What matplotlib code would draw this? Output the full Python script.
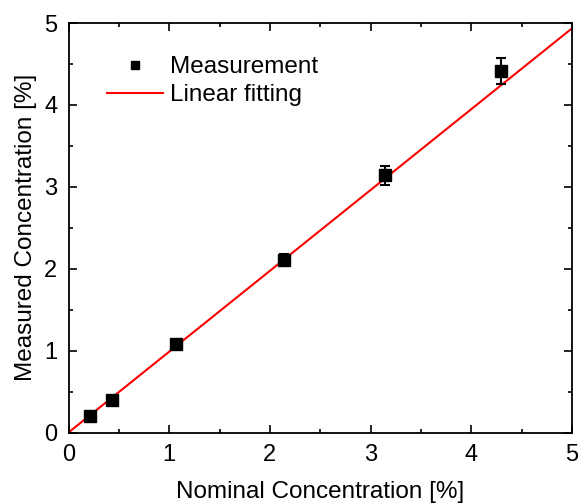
import matplotlib
matplotlib.use("Agg")
import matplotlib.pyplot as plt
import numpy as np
from matplotlib.ticker import MultipleLocator
from matplotlib.lines import Line2D

plt.rcParams['font.family'] = ['Liberation Sans', 'DejaVu Sans']

nominal = [0.21, 0.43, 1.07, 2.14, 3.14, 4.29]
measured = [0.20, 0.40, 1.08, 2.11, 3.14, 4.41]
errors = [0.02, 0.02, 0.03, 0.07, 0.12, 0.16]
slope = 0.987
fit_x = [0, 5.2]

fig = plt.figure(figsize=(5.79, 5.04), dpi=100)
ax = fig.add_axes([68.5/579, 1-432.5/504, (572-68.5)/579, (432.5-23)/504])

fx = np.array(fit_x)
line, = ax.plot(fx, slope*fx, color='red', lw=1.5, zorder=2)
ax.errorbar(nominal, measured, yerr=errors, fmt='s', color='black', ms=8,
            capsize=3.5, elinewidth=1.5, capthick=1.5, zorder=3)

ax.set_xlim(0, 5)
ax.set_ylim(0, 5)
ax.xaxis.set_major_locator(MultipleLocator(1))
ax.yaxis.set_major_locator(MultipleLocator(1))
ax.xaxis.set_minor_locator(MultipleLocator(0.5))
ax.yaxis.set_minor_locator(MultipleLocator(0.5))
ax.tick_params(which='both', direction='in', top=True, right=True, width=1.2)
ax.tick_params(which='major', length=6, labelsize=17, pad=8)
ax.tick_params(which='minor', length=3)
for s in ax.spines.values():
    s.set_linewidth(1.3)

ax.set_xlabel('Nominal Concentration [%]', fontsize=17.5, labelpad=11)
ax.set_ylabel('Measured Concentration [%]', fontsize=17.5, labelpad=5)

mk = Line2D([], [], ls='none', marker='s', color='black', ms=6)
ax.legend([mk, line], ['Measurement', 'Linear fitting'], loc='upper left',
          bbox_to_anchor=(0.057, 0.943), frameon=False, fontsize=17.5,
          handlelength=2.3, handletextpad=0.3, labelspacing=0.25, borderaxespad=0)

fig.savefig('out.png', dpi=100)
